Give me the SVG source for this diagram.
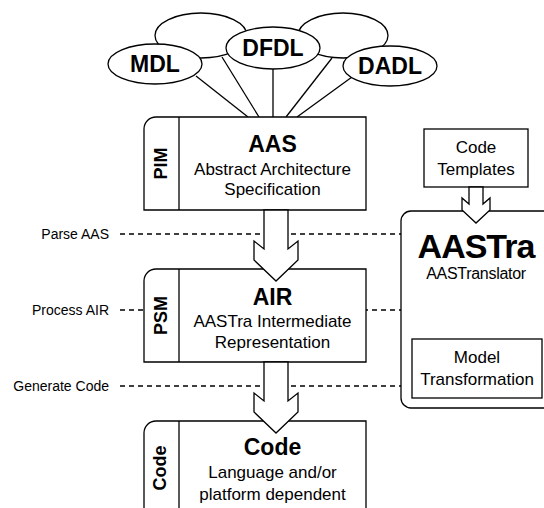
<svg xmlns="http://www.w3.org/2000/svg" width="544" height="508" viewBox="0 0 544 508">
<style>
  .s { fill: #fff; stroke: #000; stroke-width: 1.3; }
  .ln { fill: none; stroke: #000; stroke-width: 1.3; }
  .dash { fill: none; stroke: #000; stroke-width: 1.3; stroke-dasharray: 5 4; }
  text { font-family: "Liberation Sans", Arial, sans-serif; fill: #000; }
  .big { font-size: 23px; font-weight: bold; text-anchor: middle; }
  .sub { font-size: 17px; text-anchor: middle; }
  .vert { font-size: 18px; font-weight: bold; text-anchor: middle; }
  .lbl { font-size: 14px; text-anchor: end; }
</style>

<g id="back-left"><ellipse class="s" cx="201" cy="35.5" rx="46" ry="22.5"/></g>
<g id="back-right"><ellipse class="s" cx="343" cy="35.5" rx="45" ry="22.5"/></g>

<g id="connectors">
  <line class="dash" x1="120" y1="234" x2="401" y2="234"/>
  <line class="dash" x1="120" y1="310" x2="401" y2="310"/>
  <line class="dash" x1="120" y1="386" x2="401" y2="386"/>
  <line class="ln" x1="196" y1="76" x2="248" y2="117"/>
  <line class="ln" x1="222" y1="57" x2="259" y2="117"/>
  <line class="ln" x1="273" y1="69" x2="273" y2="117"/>
  <line class="ln" x1="332" y1="58" x2="286" y2="117"/>
  <line class="ln" x1="352" y1="77" x2="297" y2="117"/>
</g>

<g id="mdl"><ellipse class="s" cx="155" cy="64" rx="47" ry="20"/><text class="big" x="155" y="72">MDL</text></g>
<g id="dfdl"><ellipse class="s" cx="273" cy="48" rx="47" ry="21"/><text class="big" x="273" y="56">DFDL</text></g>
<g id="dadl"><ellipse class="s" cx="390" cy="66" rx="47" ry="20"/><text class="big" x="390" y="74">DADL</text></g>

<g id="aas">
  <path class="s" d="M144,210 V129 A12,12 0 0 1 156,117 H366 V210 Z"/>
  <line class="ln" x1="179" y1="117" x2="179" y2="210"/>
  <text class="vert" transform="translate(167,163.5) rotate(-90)">PIM</text>
  <text class="big" x="272.5" y="152">AAS</text>
  <text class="sub" x="272.5" y="175">Abstract Architecture</text>
  <text class="sub" x="272.5" y="195">Specification</text>
</g>

<g id="air">
  <path class="s" d="M144,362 V281 A12,12 0 0 1 156,269 H366 V362 Z"/>
  <line class="ln" x1="179" y1="269" x2="179" y2="362"/>
  <text class="vert" transform="translate(167,315.5) rotate(-90)">PSM</text>
  <text class="big" x="272.5" y="305">AIR</text>
  <text class="sub" x="272.5" y="327">AASTra Intermediate</text>
  <text class="sub" x="272.5" y="348">Representation</text>
</g>

<g id="code">
  <path class="s" d="M144,520 V433 A12,12 0 0 1 156,421 H366 V520 Z"/>
  <line class="ln" x1="179" y1="421" x2="179" y2="520"/>
  <text class="vert" transform="translate(166,468) rotate(-90)">Code</text>
  <text class="big" x="272.5" y="455">Code</text>
  <text class="sub" x="272.5" y="478">Language and/or</text>
  <text class="sub" x="272.5" y="500">platform dependent</text>
</g>

<g id="aastra">
  <rect class="s" x="401" y="211" width="160" height="197" rx="10"/>
  <text x="476" y="258" style="font-size:34px;font-weight:bold;text-anchor:middle;letter-spacing:-1px">AASTra</text>
  <text x="476" y="279" style="font-size:16px;text-anchor:middle;letter-spacing:-0.3px">AASTranslator</text>
</g>

<g id="model-transformation">
  <rect class="s" x="412" y="339" width="130" height="59"/>
  <text class="sub" x="477" y="363">Model</text>
  <text class="sub" x="477" y="385">Transformation</text>
</g>

<g id="code-templates">
  <rect class="s" x="424" y="129" width="104" height="58"/>
  <text class="sub" x="476" y="153">Code</text>
  <text class="sub" x="476" y="175">Templates</text>
</g>

<g id="arrows">
  <polygon class="s" points="264,210 264,249 254,241 254,260 276,281 298,260 298,241 288,249 288,210"/>
  <polygon class="s" points="264,362 264,401 254,393 254,412 276,433 298,412 298,393 288,401 288,362"/>
  <polygon class="s" points="469,187 469,204 462,198 462,210 476,223 490,210 490,198 483,204 483,187"/>
</g>

<g id="labels">
  <text class="lbl" x="109" y="239">Parse AAS</text>
  <text class="lbl" x="109" y="315">Process AIR</text>
  <text class="lbl" x="109" y="391">Generate Code</text>
</g>
</svg>
